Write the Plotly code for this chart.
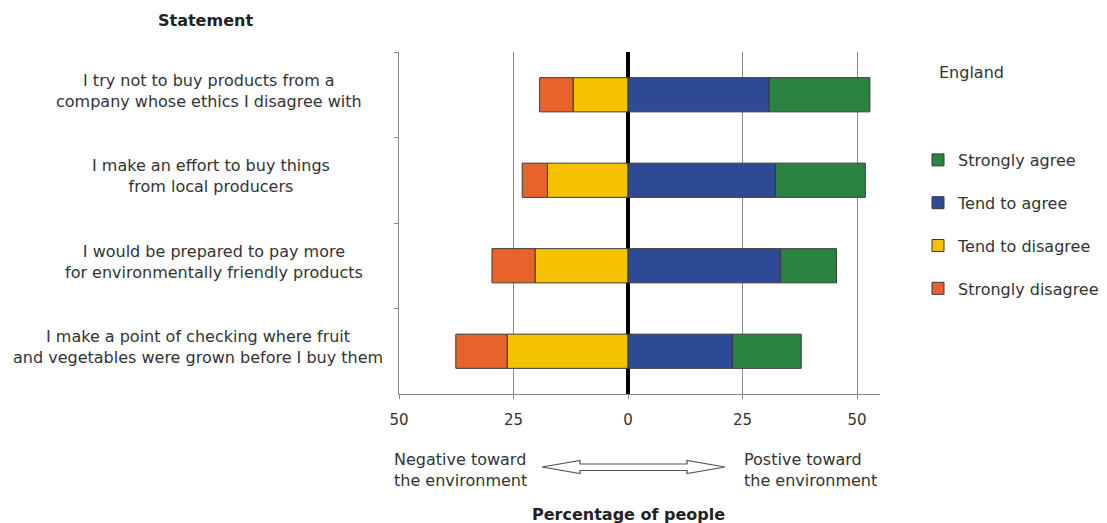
import plotly.graph_objects as go

# Survey statements (top to bottom) and the share of people (%) per response
statements = [
    "I try not to buy products from a<br>company whose ethics I disagree with",
    "I make an effort to buy things<br>from local producers",
    "I would be prepared to pay more<br>for environmentally friendly products",
    "I make a point of checking where fruit<br>and vegetables were grown before I buy them",
]
strongly_agree = [22.0, 19.6, 12.2, 15.0]
tend_to_agree = [30.8, 32.2, 33.3, 22.8]
tend_to_disagree = [12.0, 17.6, 20.3, 26.4]
strongly_disagree = [7.3, 5.5, 9.4, 11.2]

x_tickvals = [-50, -25, 0, 25, 50]
x_ticktext = ["50", "25", "0", "25", "50"]

FONT = "DejaVu Sans, Verdana, sans-serif"
TEXT = "#333333"

# plot area in pixels (used to place the surrounding labels)
W, H = 1107, 523
L, R, T, B = 399, 880, 52, 394


def px_x(px):
    return (px - L) / (R - L)


def px_y(py):
    return (B - py) / (B - T)


fig = go.Figure()

series = [
    # negatives stack outward from zero in trace order
    ("Tend to disagree", [-v for v in tend_to_disagree], "#F5C200", 3),
    ("Strongly disagree", [-v for v in strongly_disagree], "#E8632B", 4),
    ("Tend to agree", tend_to_agree, "#2F4A94", 2),
    ("Strongly agree", strongly_agree, "#2A8340", 1),
]
for name, vals, color, rank in series:
    fig.add_trace(go.Bar(
        name=name,
        x=vals,
        y=statements,
        orientation="h",
        marker=dict(color=color, line=dict(color="#3a3a3a", width=1)),
        legendrank=rank,
        legendgroup=name,
    ))

fig.update_layout(
    width=W, height=H,
    margin=dict(l=L, r=W - R, t=T, b=H - B, pad=0, autoexpand=False),
    plot_bgcolor="white",
    paper_bgcolor="white",
    barmode="relative",
    bargap=0.6,
    font=dict(family=FONT, size=16, color=TEXT),
    showlegend=True,
    legend=dict(
        x=px_x(918), y=px_y(143), xanchor="left", yanchor="top",
        font=dict(family=FONT, size=16, color=TEXT),
        tracegroupgap=19,
        bgcolor="rgba(0,0,0,0)",
    ),
)

fig.update_xaxes(
    range=[-50, 55],
    tickvals=x_tickvals,
    ticktext=x_ticktext,
    tickfont=dict(family=FONT, size=15, color=TEXT),
    showgrid=True, gridcolor="#8a8a8a", gridwidth=1,
    zeroline=True, zerolinecolor="black", zerolinewidth=4,
    showline=True, linecolor="#8a8a8a", linewidth=1,
    ticks="outside", ticklen=4, tickcolor="#8a8a8a",
    ticklabelstandoff=8,
    layer="above traces",
    fixedrange=True,
)
fig.update_yaxes(
    type="category",
    categoryorder="array",
    categoryarray=statements,
    autorange="reversed",
    showticklabels=False,
    tickson="boundaries",
    ticks="outside", ticklen=4, tickcolor="#8a8a8a",
    showgrid=False,
    showline=True, linecolor="#8a8a8a", linewidth=1,
    fixedrange=True,
)

# statement labels beside each bar
label_centers = [209, 211, 214, 198]
for s, cx in zip(statements, label_centers):
    fig.add_annotation(
        x=px_x(cx), xref="paper", y=s, yref="y",
        text=s, showarrow=False, align="center",
        xanchor="center", yanchor="middle", yshift=4,
        font=dict(family=FONT, size=16, color=TEXT),
    )

# headings and axis captions
fig.add_annotation(x=px_x(205), y=px_y(20), xref="paper", yref="paper",
                   text="<b>Statement</b>", showarrow=False,
                   xanchor="center", yanchor="middle",
                   font=dict(family=FONT, size=16, color="#222222"))
fig.add_annotation(x=px_x(937), y=px_y(72), xref="paper", yref="paper",
                   text="England", showarrow=False,
                   xanchor="left", yanchor="middle",
                   font=dict(family=FONT, size=16, color=TEXT))
fig.add_annotation(x=px_x(628), y=px_y(514), xref="paper", yref="paper",
                   text="<b>Percentage of people</b>", showarrow=False,
                   xanchor="center", yanchor="middle",
                   font=dict(family=FONT, size=16, color="#222222"))
fig.add_annotation(x=px_x(392), y=px_y(470), xref="paper", yref="paper",
                   text="Negative toward<br>the environment", showarrow=False,
                   xanchor="left", yanchor="middle", align="left",
                   font=dict(family=FONT, size=16, color=TEXT))
fig.add_annotation(x=px_x(742), y=px_y(470), xref="paper", yref="paper",
                   text="Postive toward<br>the environment", showarrow=False,
                   xanchor="left", yanchor="middle", align="left",
                   font=dict(family=FONT, size=16, color=TEXT))

# hollow double-headed arrow between the two captions
pts = [(542, 467), (580, 460.5), (580, 464), (687, 464), (687, 460.5),
       (725, 467), (687, 473.5), (687, 470.5), (580, 470.5), (580, 473.5)]
path = "M " + " L ".join(f"{px_x(a):.5f},{px_y(b):.5f}" for a, b in pts) + " Z"
fig.add_shape(type="path", path=path, xref="paper", yref="paper",
              line=dict(color="#555555", width=1.2), fillcolor="white",
              layer="above")

fig.write_html("out.html")
